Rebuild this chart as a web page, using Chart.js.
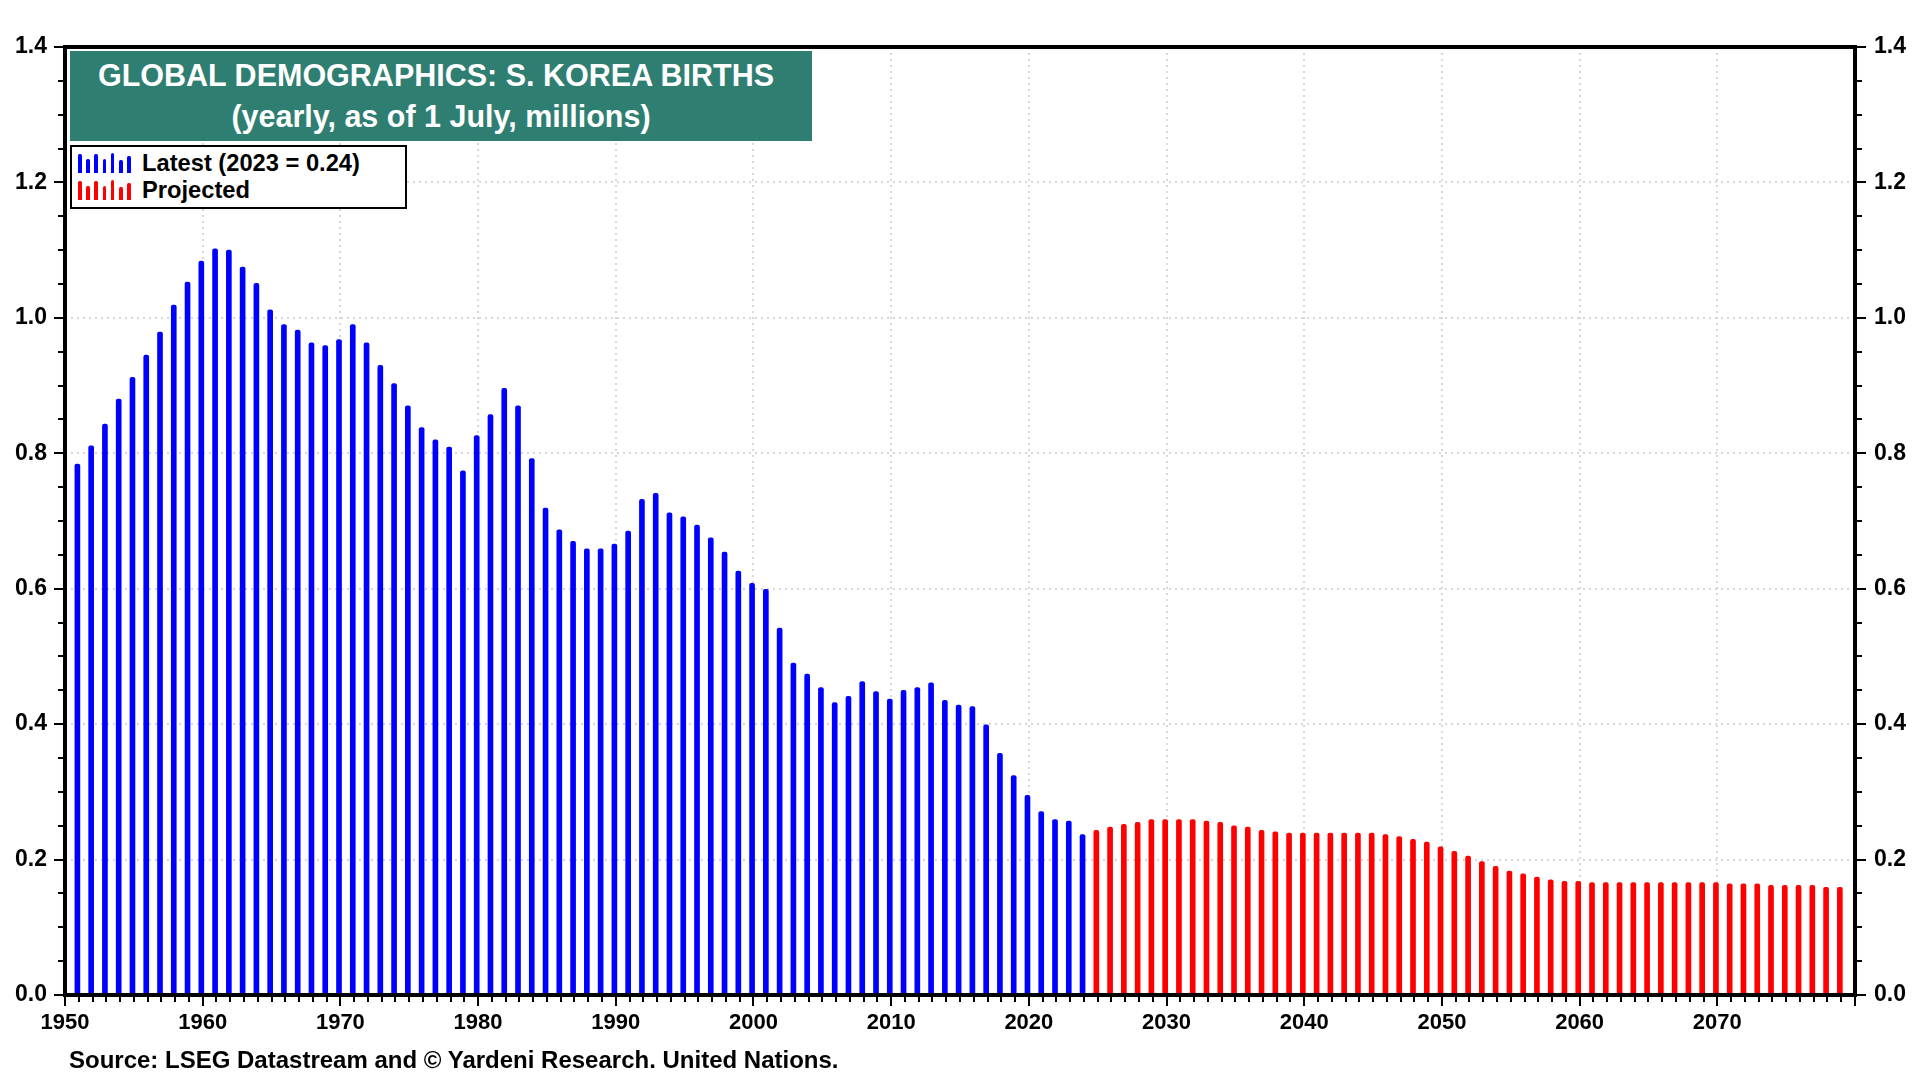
<!DOCTYPE html>
<html>
<head>
<meta charset="utf-8">
<title>Global Demographics: S. Korea Births</title>
<script src="https://cdn.jsdelivr.net/npm/chart.js@4.4.1/dist/chart.umd.min.js"></script>
<style>
  html, body { margin: 0; padding: 0; background: #fff; }
  #wrap {
    position: relative; width: 1920px; height: 1080px;
    font-family: "Liberation Sans", Arial, sans-serif; font-weight: bold;
  }
  #chart { position: absolute; left: 0; top: 0; }
  #titleBox {
    position: absolute; left: 70px; top: 51px; width: 742px; height: 90px;
    background: #2f7e72; color: #fff; font-size: 30.5px; text-align: center;
  }
  #titleBox div { position: absolute; left: 0; right: 0; line-height: 40px; white-space: nowrap; }
  #legendBox {
    position: absolute; left: 70px; top: 145px; width: 333px; height: 60px;
    border: 2px solid #000; background: #fff; font-size: 23.7px; color: #000;
  }
  .row { position: absolute; left: 0; right: 0; height: 27px; }
  .row .label { position: absolute; left: 70px; top: 0; line-height: 27px; white-space: nowrap; }
  .icon { position: absolute; left: 6px; top: 2px; width: 54px; height: 21px; }
  .icon span { position: absolute; bottom: 0; width: 3.6px; border-radius: 1.5px 1.5px 0 0; }
  #source {
    position: absolute; left: 69px; top: 1046px; font-size: 24px;
    line-height: 28px; color: #000; white-space: nowrap;
  }
</style>
</head>
<body>
<div id="wrap">
  <canvas id="chart" width="1920" height="1080"></canvas>
  <div id="titleBox">
    <div style="top: 4px; right: 10px;">GLOBAL DEMOGRAPHICS: S. KOREA BIRTHS</div>
    <div style="top: 45px;">(yearly, as of 1 July, millions)</div>
  </div>
  <div id="legendBox">
    <div class="row" style="top: 3px;">
      <div class="icon" id="iconLatest"></div>
      <div class="label">Latest (2023 = 0.24)</div>
    </div>
    <div class="row" style="top: 30px;">
      <div class="icon" id="iconProjected"></div>
      <div class="label">Projected</div>
    </div>
  </div>
  <div id="source">Source: LSEG Datastream and © Yardeni Research. United Nations.</div>
</div>

<script>
// Births in millions, one bar per year
const latestStart = 1950;   // 1950 .. 2023
const latestBirths = [
  0.784, 0.811, 0.843, 0.880, 0.912, 0.945, 0.979, 1.019, 1.053, 1.084,
  1.102, 1.100, 1.075, 1.051, 1.012, 0.990, 0.982, 0.963, 0.959, 0.968,
  0.990, 0.963, 0.930, 0.903, 0.870, 0.838, 0.820, 0.809, 0.774, 0.826,
  0.857, 0.896, 0.870, 0.792, 0.719, 0.687, 0.670, 0.659, 0.659, 0.666,
  0.685, 0.732, 0.741, 0.712, 0.706, 0.694, 0.675, 0.654, 0.626, 0.608,
  0.599, 0.542, 0.490, 0.474, 0.454, 0.432, 0.441, 0.463, 0.448, 0.437,
  0.450, 0.454, 0.461, 0.435, 0.428, 0.426, 0.399, 0.357, 0.324, 0.295,
  0.271, 0.259, 0.257, 0.237
];

const projectedStart = 2024; // 2024 .. 2078
const projectedBirths = [
  0.243, 0.248, 0.252, 0.255, 0.259, 0.259, 0.259, 0.259, 0.257, 0.255,
  0.250, 0.248, 0.243, 0.241, 0.239, 0.239, 0.239, 0.239, 0.239, 0.239,
  0.239, 0.237, 0.234, 0.230, 0.226, 0.219, 0.212, 0.205, 0.197, 0.190,
  0.183, 0.179, 0.174, 0.170, 0.168, 0.168, 0.166, 0.166, 0.166, 0.166,
  0.166, 0.166, 0.166, 0.166, 0.166, 0.166, 0.164, 0.164, 0.164, 0.162,
  0.162, 0.162, 0.162, 0.159, 0.159
];

const xTickLabels = [1950, 1960, 1970, 1980, 1990, 2000, 2010, 2020, 2030, 2040, 2050, 2060, 2070];
const yTickLabels = ['0.0', '0.2', '0.4', '0.6', '0.8', '1.0', '1.2', '1.4'];

// bars are dated near the end of each year on the time axis
const BAR_OFFSET = 0.9;

function toPoints(start, values) {
  return values.map((v, i) => ({ x: start + i + BAR_OFFSET, y: v }));
}

// little bar icons for the legend
const iconHeights = [19, 14, 19, 14, 20, 13, 17];
function fillIcon(id, color) {
  const el = document.getElementById(id);
  iconHeights.forEach((h, i) => {
    const s = document.createElement('span');
    s.style.left = (i * 8.2) + 'px';
    s.style.height = h + 'px';
    s.style.background = color;
    el.appendChild(s);
  });
}
fillIcon('iconLatest', '#0000ff');
fillIcon('iconProjected', '#ff0000');

const tickFont = { family: 'Liberation Sans', size: 23, weight: 'bold' };

// thick frame and the short minor ticks (years, 0.05 steps)
const frameAndMinorTicks = {
  id: 'frameAndMinorTicks',
  afterDatasetsDraw(chart) {
    const { ctx, chartArea: a, scales: { x, y } } = chart;
    ctx.save();
    ctx.strokeStyle = '#000';
    ctx.lineWidth = 2;
    ctx.beginPath();
    for (let yr = 1951; yr < 2080; yr++) {
      if (yr % 10 === 0) continue;
      const px = Math.round(x.getPixelForValue(yr));
      ctx.moveTo(px, a.bottom);
      ctx.lineTo(px, a.bottom + 7);
    }
    for (let i = 1; i < 28; i++) {
      if (i % 4 === 0) continue;
      const py = Math.round(y.getPixelForValue(i * 0.05));
      ctx.moveTo(a.left - 7, py);
      ctx.lineTo(a.left, py);
      ctx.moveTo(a.right, py);
      ctx.lineTo(a.right + 7, py);
    }
    ctx.stroke();
    ctx.lineWidth = 4;
    ctx.strokeRect(a.left, a.top, a.right - a.left, a.bottom - a.top);
    ctx.restore();
  }
};

const yAxis = (position, width) => ({
  type: 'linear',
  position: position,
  min: 0,
  max: 1.4,
  afterFit: (scale) => { scale.width = width; },
  afterBuildTicks: (scale) => {
    scale.ticks = yTickLabels.map(t => ({ value: parseFloat(t) }));
  },
  ticks: {
    font: tickFont,
    color: '#000',
    padding: position === 'left' ? 7 : 8,
    callback: (v) => v.toFixed(1)
  },
  grid: {
    display: true,
    drawOnChartArea: position === 'left',
    color: '#d6d6d6',
    lineWidth: 2,
    tickLength: 11,
    tickWidth: 2,
    tickColor: '#000'
  },
  border: { display: false, dash: [2, 4] }
});

new Chart(document.getElementById('chart'), {
  type: 'bar',
  data: {
    datasets: [
      {
        label: 'Latest (2023 = 0.24)',
        data: toPoints(latestStart, latestBirths),
        backgroundColor: '#0000ff',
        barThickness: 5,
        borderRadius: 2,
        grouped: false
      },
      {
        label: 'Projected',
        data: toPoints(projectedStart, projectedBirths),
        backgroundColor: '#ff0000',
        barThickness: 5,
        borderRadius: 2,
        grouped: false
      }
    ]
  },
  options: {
    responsive: false,
    animation: false,
    devicePixelRatio: 1,
    layout: { padding: { top: 47, left: 0, right: 0, bottom: 0 } },
    plugins: {
      legend: { display: false },
      title: { display: false },
      tooltip: { enabled: false }
    },
    scales: {
      x: {
        type: 'linear',
        position: 'bottom',
        min: 1950,
        max: 2080,
        offset: false,
        afterFit: (scale) => { scale.height = 85; },
        ticks: {
          stepSize: 10,
          font: { family: 'Liberation Sans', size: 22, weight: 'bold' },
          color: '#000',
          padding: 4,
          maxRotation: 0,
          autoSkip: false,
          callback: (v) => xTickLabels.includes(v) ? String(v) : ''
        },
        grid: {
          offset: false,
          color: '#d6d6d6',
          lineWidth: 2,
          tickLength: 11,
          tickWidth: 2,
          tickColor: '#000'
        },
        border: { display: false, dash: [2, 4] }
      },
      y: yAxis('left', 65),
      y2: yAxis('right', 65)
    }
  },
  plugins: [frameAndMinorTicks]
});
</script>
</body>
</html>
